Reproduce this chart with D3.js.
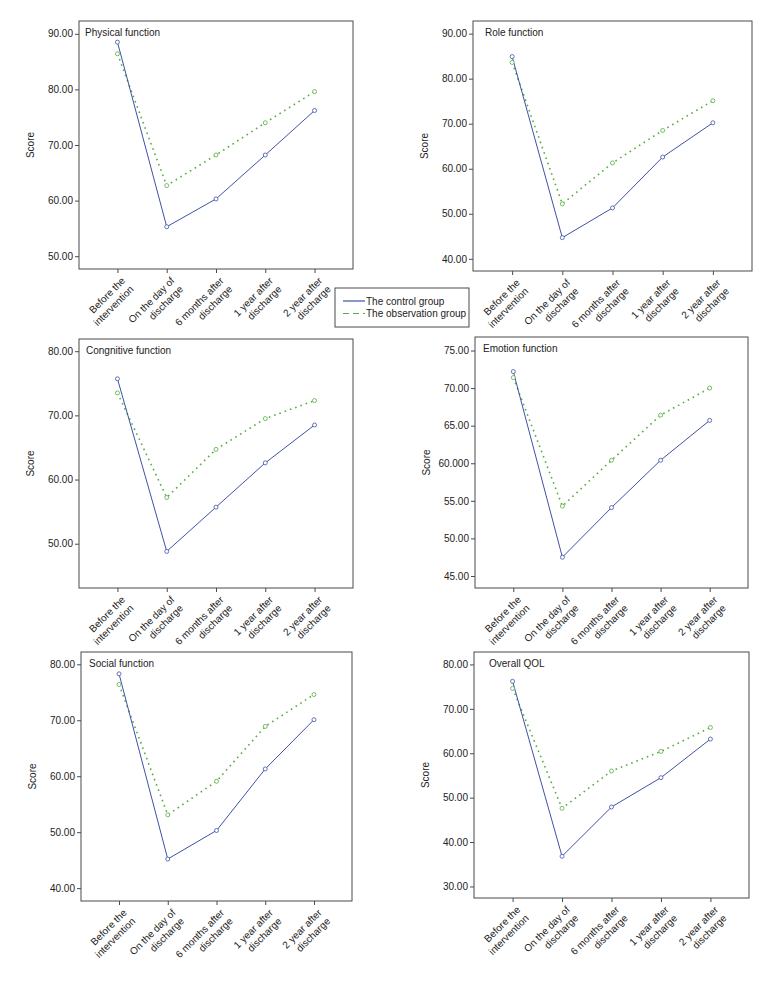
<!DOCTYPE html>
<html lang="en">
<head>
<meta charset="UTF-8">
<title>Quality of life scores</title>
<script src="https://d3js.org/d3.v7.min.js"></script>
<style>
  body { margin: 0; background: #fff; }
  svg { display: block; font-family: "Liberation Sans", Arial, sans-serif; }
  .frame { fill: none; stroke: #4a4a4a; stroke-width: 1; }
  .axis path { display: none; }
  .axis line { stroke: #4a4a4a; }
  .axis text { font-size: 10px; fill: #222; }
  .title, .ylab, .xlab, .legend text { font-size: 10px; fill: #222; }
</style>
</head>
<body>
<svg id="chart" width="780" height="984"></svg>
<script>
// time points on the x axis (two lines each)
const timePoints = [
  ["Before the", "intervention"],
  ["On the day of", "discharge"],
  ["6 months after", "discharge"],
  ["1 year after", "discharge"],
  ["2 year after", "discharge"]
];
const groupNames = ["The control group", "The observation group"];

// scores
const physicalControl = [88.5, 55.3, 60.3, 68.2, 76.2];
const physicalObservation = [86.4, 62.7, 68.2, 74.0, 79.6];
const roleControl = [84.9, 44.7, 51.3, 62.6, 70.2];
const roleObservation = [83.6, 52.2, 61.3, 68.5, 75.1];
const cognitiveControl = [75.7, 48.8, 55.7, 62.6, 68.5];
const cognitiveObservation = [73.5, 57.2, 64.7, 69.5, 72.3];
const emotionControl = [72.2, 47.5, 54.1, 60.4, 65.7];
const emotionObservation = [71.4, 54.3, 60.4, 66.4, 70.0];
const socialControl = [78.3, 45.2, 50.3, 61.3, 70.1];
const socialObservation = [76.4, 53.1, 59.1, 68.9, 74.6];
const qolControl = [76.2, 36.8, 47.9, 54.5, 63.2];
const qolObservation = [74.6, 47.6, 56.0, 60.4, 65.8];

// y tick labels as printed
const physicalTicks = ["50.00", "60.00", "70.00", "80.00", "90.00"];
const roleTicks = ["40.00", "50.00", "60.00", "70.00", "80.00", "90.00"];
const cognitiveTicks = ["50.00", "60.00", "70.00", "80.00"];
const emotionTicks = ["45.00", "50.00", "55.00", "60.000", "65.00", "70.00", "75.00"];
const socialTicks = ["40.00", "50.00", "60.00", "70.00", "80.00"];
const qolTicks = ["30.00", "40.00", "50.00", "60.00", "70.00", "80.00"];

const panels = [
  { title: "Physical function", control: physicalControl, observation: physicalObservation, ticks: physicalTicks,
    ymin: 47.7, ymax: 92.3, box: [79, 21, 353, 269], tdx: 6 },
  { title: "Role function", control: roleControl, observation: roleObservation, ticks: roleTicks,
    ymin: 37.3, ymax: 92.8, box: [473, 21, 752, 271], tdx: 12 },
  { title: "Congnitive function", control: cognitiveControl, observation: cognitiveObservation, ticks: cognitiveTicks,
    ymin: 43.1, ymax: 81.9, box: [79, 339, 353, 588], tdx: 7 },
  { title: "Emotion function", control: emotionControl, observation: emotionObservation, ticks: emotionTicks,
    ymin: 43.4, ymax: 76.8, box: [475, 337, 748, 588], tdx: 8 },
  { title: "Social function", control: socialControl, observation: socialObservation, ticks: socialTicks,
    ymin: 37.7, ymax: 82.2, box: [81, 652, 352, 901], tdx: 8 },
  { title: "Overall QOL", control: qolControl, observation: qolObservation, ticks: qolTicks,
    ymin: 27.4, ymax: 82.8, box: [474, 652, 749, 898], tdx: 15 }
];

const blue = "#3f52a6";
const green = "#55ad3f";

const svg = d3.select("#chart");

panels.forEach(p => {
  const [x0, y0, x1, y1] = p.box;
  const g = svg.append("g");

  const x = d3.scalePoint().domain(d3.range(timePoints.length)).range([x0, x1]).padding(0.78);
  const y = d3.scaleLinear().domain([p.ymin, p.ymax]).range([y1, y0]);

  // y axis
  const labelOf = {};
  p.ticks.forEach(t => { labelOf[+t] = t; });
  g.append("g")
    .attr("class", "axis")
    .attr("transform", `translate(${x0},0)`)
    .call(d3.axisLeft(y).tickValues(p.ticks.map(Number)).tickSize(4).tickPadding(2)
      .tickFormat(v => labelOf[v]));

  // x axis ticks
  g.append("g")
    .attr("class", "axis")
    .attr("transform", `translate(0,${y1})`)
    .call(d3.axisBottom(x).tickSize(4).tickFormat(""));

  // rotated two-line category labels
  timePoints.forEach((lines, i) => {
    const t = g.append("text")
      .attr("class", "xlab")
      .attr("text-anchor", "end")
      .attr("transform", `translate(${x(i) + 2},${y1 + 6}) rotate(-45)`);
    lines.forEach((s, k) => {
      t.append("tspan").attr("x", 0).attr("y", 9 + k * 12).text(s);
    });
  });

  g.append("rect").attr("class", "frame")
    .attr("x", x0).attr("y", y0).attr("width", x1 - x0).attr("height", y1 - y0);

  g.append("text").attr("class", "title")
    .attr("x", x0 + p.tdx).attr("y", y0 + 15)
    .text(p.title);

  g.append("text").attr("class", "ylab")
    .attr("text-anchor", "middle")
    .attr("transform", `translate(${x0 - 45},${(y0 + y1) / 2}) rotate(-90)`)
    .text("Score");

  const line = d3.line().x((d, i) => x(i)).y(d => y(d));

  g.append("path").datum(p.observation)
    .attr("fill", "none").attr("stroke", green).attr("stroke-width", 1.6)
    .attr("stroke-dasharray", "1.6,4").attr("d", line);
  g.append("path").datum(p.control)
    .attr("fill", "none").attr("stroke", blue).attr("stroke-width", 1)
    .attr("d", line);

  g.selectAll("circle.obs").data(p.observation).enter().append("circle")
    .attr("class", "obs")
    .attr("cx", (d, i) => x(i)).attr("cy", d => y(d)).attr("r", 2)
    .attr("fill", "#fff").attr("stroke", green).attr("stroke-width", 0.8);
  g.selectAll("circle.ctl").data(p.control).enter().append("circle")
    .attr("class", "ctl")
    .attr("cx", (d, i) => x(i)).attr("cy", d => y(d)).attr("r", 2)
    .attr("fill", "#fff").attr("stroke", blue).attr("stroke-width", 0.8);
});

// legend
const lg = svg.append("g").attr("class", "legend");
lg.append("rect").attr("x", 335).attr("y", 288).attr("width", 134).attr("height", 39)
  .attr("fill", "#fff").attr("stroke", "#4a4a4a");
groupNames.forEach((name, i) => {
  const yy = 301 + i * 12.5;
  lg.append("line").attr("x1", 343).attr("x2", 365).attr("y1", yy).attr("y2", yy)
    .attr("stroke", i === 0 ? blue : green)
    .attr("stroke-width", 1.2)
    .attr("stroke-dasharray", i === 0 ? null : "6,4");
  lg.append("text").attr("x", 366).attr("y", yy + 3.5).text(name);
});
</script>
</body>
</html>
